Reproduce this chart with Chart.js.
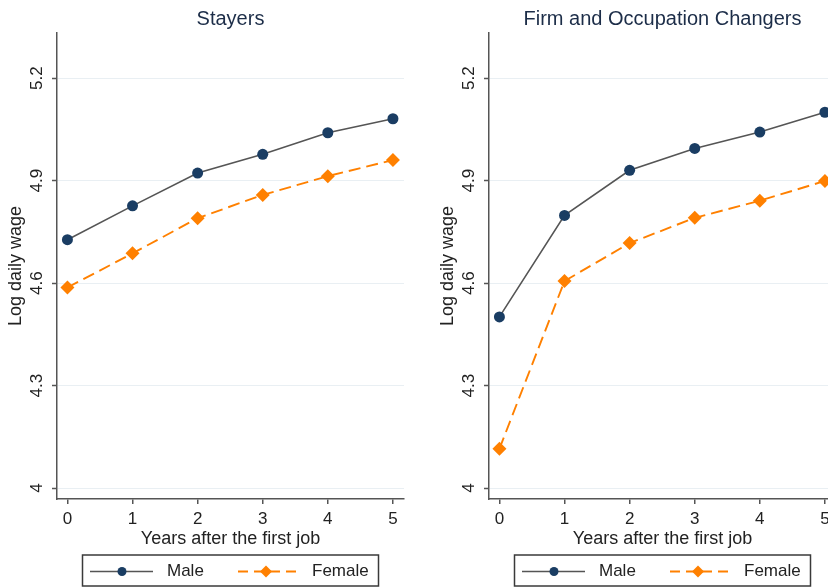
<!DOCTYPE html>
<html>
<head>
<meta charset="utf-8">
<script src="https://cdn.jsdelivr.net/npm/chart.js@4/dist/chart.umd.min.js"></script>
<style>
  html, body { margin: 0; padding: 0; background: #fff; }
  #wrap { position: relative; width: 828px; height: 587px; overflow: hidden; }
  .panel { position: absolute; top: 0; width: 414px; height: 587px; }
  #p1 { left: 0; }
  #p2 { left: 432px; }
</style>
</head>
<body>
<div id="wrap">
  <div class="panel" id="p1"><canvas id="c1" width="414" height="587"></canvas></div>
  <div class="panel" id="p2"><canvas id="c2" width="414" height="587"></canvas></div>
</div>
<script>
// Years after the first job
const years = [0, 1, 2, 3, 4, 5];
const yTicks = [4, 4.3, 4.6, 4.9, 5.2];

// Log daily wage, stayers
const stayersMale   = [4.727, 4.826, 4.922, 4.977, 5.040, 5.081];
const stayersFemale = [4.587, 4.687, 4.790, 4.858, 4.913, 4.960];

// Log daily wage, firm and occupation changers
const changersMale   = [4.501, 4.798, 4.930, 4.994, 5.042, 5.100];
const changersFemale = [4.115, 4.606, 4.717, 4.791, 4.841, 4.899];

const seriesNames = ['Male', 'Female'];

const FONT = '"Liberation Sans", Arial, Helvetica, sans-serif';
const TEXT = '#222';
const AXIS = '#555';
const NAVY = '#1a3d63';
const ORANGE = '#ff8000';
const GRID = '#e9eff3';

function points(vals) {
  return years.map((x, i) => ({ x: x, y: vals[i] }));
}

// Rotated y tick labels and the boxed key under each panel
const panelDecor = {
  id: 'panelDecor',
  afterDraw(chart) {
    const ctx = chart.ctx;
    const ys = chart.scales.y;
    const area = chart.chartArea;

    ctx.save();
    ctx.fillStyle = TEXT;
    ctx.font = '17px ' + FONT;
    ctx.textAlign = 'center';
    ctx.textBaseline = 'middle';
    yTicks.forEach(v => {
      const py = ys.getPixelForValue(v);
      ctx.save();
      ctx.translate(area.left - 20, py);
      ctx.rotate(-Math.PI / 2);
      ctx.fillText(String(v), 0, 0);
      ctx.restore();
    });
    ctx.restore();

    // key
    const cx = (area.left + area.right) / 2;
    const top = 555, h = 31, cy = top + h / 2 + 1;
    ctx.save();
    ctx.strokeStyle = '#3a3a3a';
    ctx.lineWidth = 1.5;
    ctx.strokeRect(cx - 148, top, 296, h);

    const ds = chart.data.datasets;
    // male entry
    ctx.strokeStyle = ds[0].borderColor;
    ctx.lineWidth = ds[0].borderWidth;
    ctx.beginPath();
    ctx.moveTo(cx - 140.5, cy);
    ctx.lineTo(cx - 77.5, cy);
    ctx.stroke();
    ctx.fillStyle = ds[0].pointBackgroundColor;
    ctx.beginPath();
    ctx.arc(cx - 108.5, cy, 4.5, 0, Math.PI * 2);
    ctx.fill();

    // female entry
    ctx.strokeStyle = ds[1].borderColor;
    ctx.lineWidth = ds[1].borderWidth;
    ctx.setLineDash([10, 6]);
    ctx.beginPath();
    ctx.moveTo(cx + 7.5, cy);
    ctx.lineTo(cx + 67.5, cy);
    ctx.stroke();
    ctx.setLineDash([]);
    ctx.fillStyle = ds[1].pointBackgroundColor;
    const dx = cx + 35.5, r = 6;
    ctx.beginPath();
    ctx.moveTo(dx, cy - r);
    ctx.lineTo(dx + r, cy);
    ctx.lineTo(dx, cy + r);
    ctx.lineTo(dx - r, cy);
    ctx.closePath();
    ctx.fill();

    ctx.fillStyle = TEXT;
    ctx.font = '17px ' + FONT;
    ctx.textAlign = 'left';
    ctx.textBaseline = 'middle';
    ctx.fillText(ds[0].label, cx - 63.5, cy);
    ctx.fillText(ds[1].label, cx + 81.5, cy);
    ctx.restore();
  }
};

function makePanel(canvasId, title, male, female) {
  return new Chart(document.getElementById(canvasId), {
    type: 'line',
    data: {
      datasets: [
        {
          label: seriesNames[0],
          data: points(male),
          borderColor: AXIS,
          borderWidth: 1.6,
          pointStyle: 'circle',
          pointRadius: 5.5,
          pointBorderWidth: 0,
          pointBackgroundColor: NAVY,
          pointBorderColor: NAVY,
          tension: 0
        },
        {
          label: seriesNames[1],
          data: points(female),
          borderColor: ORANGE,
          borderWidth: 1.9,
          borderDash: [12, 6],
          pointStyle: 'rectRot',
          pointRadius: 7,
          pointBorderWidth: 0,
          pointBackgroundColor: ORANGE,
          pointBorderColor: ORANGE,
          tension: 0
        }
      ]
    },
    options: {
      responsive: false,
      animation: false,
      devicePixelRatio: 1,
      layout: { padding: { left: 0, right: 10, top: 0, bottom: 34 } },
      plugins: {
        legend: { display: false },
        tooltip: { enabled: false },
        title: {
          display: true,
          text: title,
          fullSize: false,
          color: '#1c2d48',
          font: { family: FONT, size: 20, weight: 'normal', lineHeight: 1.2 },
          padding: { top: 7, bottom: 2 }
        }
      },
      scales: {
        x: {
          type: 'linear',
          min: -0.16,
          max: 5.17,
          afterBuildTicks: s => { s.ticks = years.map(v => ({ value: v })); },
          afterFit: s => { s.height = 54; },
          grid: { drawOnChartArea: false, drawTicks: true, tickLength: 5, color: AXIS, tickColor: AXIS, lineWidth: 1.5 },
          border: { color: AXIS, width: 1.5 },
          ticks: { color: TEXT, font: { family: FONT, size: 17 }, padding: 5, maxRotation: 0 },
          title: {
            display: true,
            text: 'Years after the first job',
            color: TEXT,
            font: { family: FONT, size: 18 },
            padding: { top: 0, bottom: 3.5 }
          }
        },
        y: {
          type: 'linear',
          min: 3.968,
          max: 5.332,
          afterBuildTicks: s => { s.ticks = yTicks.map(v => ({ value: v })); },
          afterFit: s => { s.width = 57; },
          grid: { color: GRID, lineWidth: 1, drawTicks: true, tickLength: 5, tickColor: AXIS, tickWidth: 1.5 },
          border: { color: AXIS, width: 1.5 },
          ticks: { display: false },
          title: {
            display: true,
            text: 'Log daily wage',
            color: TEXT,
            font: { family: FONT, size: 18 },
            padding: { top: 5, bottom: 0 }
          }
        }
      }
    },
    plugins: [panelDecor]
  });
}

makePanel('c1', 'Stayers', stayersMale, stayersFemale);
makePanel('c2', 'Firm and Occupation Changers', changersMale, changersFemale);
</script>
</body>
</html>
